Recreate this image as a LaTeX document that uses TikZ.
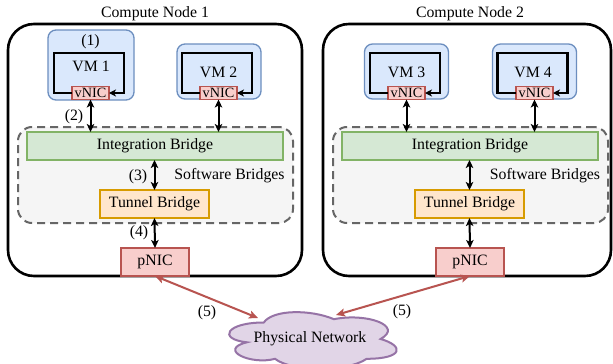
\documentclass[tikz,border=0pt]{standalone}
\usepackage{fontspec}
\setmainfont{Liberation Serif}
\usetikzlibrary{arrows.meta}

\definecolor{vmfill}{HTML}{DAE8FC}
\definecolor{vmline}{HTML}{6C8EBF}
\definecolor{nicfill}{HTML}{F8CECC}
\definecolor{nicline}{HTML}{B85450}
\definecolor{ibfill}{HTML}{D5E8D4}
\definecolor{ibline}{HTML}{82B366}
\definecolor{tbfill}{HTML}{FFE6CC}
\definecolor{tbline}{HTML}{D79B00}
\definecolor{swfill}{HTML}{F5F5F5}
\definecolor{swline}{HTML}{666666}
\definecolor{netfill}{HTML}{E1D5E7}
\definecolor{netline}{HTML}{9673A6}

\newcommand\dgmfont{\fontsize{15.8pt}{18pt}\selectfont}
\newcommand\nicfont{\fontsize{14.2pt}{16pt}\selectfont}

\begin{document}
\begin{tikzpicture}[x=1pt,y=-1pt,
  box/.style={rectangle,inner sep=0pt,outer sep=0pt},
  host/.style={box,draw=black,line width=2.6pt,rounded corners=26pt},
  vmcase/.style={box,draw=vmline,fill=vmfill,line width=1.3pt,rounded corners=8pt},
  nic/.style={box,draw=nicline,fill=nicfill,line width=1.3pt,font=\nicfont},
  swbox/.style={box,draw=swline,fill=swfill,line width=2pt,dash pattern=on 8pt off 5pt,rounded corners=14pt},
  intbr/.style={box,draw=ibline,fill=ibfill,line width=1.3pt,font=\dgmfont},
  tunbr/.style={box,draw=tbline,fill=tbfill,line width=1.3pt,font=\dgmfont},
  pnic/.style={box,draw=nicline,fill=nicfill,line width=1.3pt,font=\dgmfont},
  lbl/.style={inner sep=0pt,font=\dgmfont},
  tip/.style={Stealth[length=8pt,width=7.5pt,inset=2pt]},
  vmloop/.style={line width=2.4pt,-{Stealth[length=7pt,width=7pt,inset=2pt]}},
  link/.style={line width=2pt,{Stealth[length=8pt,width=7.5pt,inset=2pt]}-{Stealth[length=8pt,width=7.5pt,inset=2pt]}},
  wan/.style={draw=nicline,line width=2pt,{Stealth[length=9pt,width=8pt,inset=2pt]}-{Stealth[length=9pt,width=8pt,inset=2pt]}}
]
\useasboundingbox (0,0) rectangle (613,364);
\fill[white] (0,0) rectangle (613,364);

% ---------- Compute Node 1 ----------
\node[host,minimum width=294pt,minimum height=252pt] (cn1) at (155,150) {};
\node[lbl] (cn1t) at (155,14) {Compute Node 1};

\node[vmcase,minimum width=86pt,minimum height=70pt] (vmc1) at (91,65) {};
\node[box,minimum width=70pt,minimum height=40pt] (vm1) at (89,73) {};
\node[lbl] (vm1n) at (90.5,42) {(1)};
\node[lbl] (vm1t) at (91,66) {VM 1};
\node[nic,minimum width=37pt,minimum height=13pt] (vnic1) at (90.5,93) {vNIC};
\draw[vmloop] (vnic1.west) -- (vm1.south west) -- (vm1.north west) -- (vm1.north east) -- (vm1.south east) -- (vnic1.east);

\node[vmcase,minimum width=84pt,minimum height=55pt] (vmc2) at (219,71.5) {};
\node[box,minimum width=70pt,minimum height=40pt] (vm2) at (217,73) {};
\node[lbl] (vm2t) at (218.5,72) {VM 2};
\node[nic,minimum width=37pt,minimum height=13pt] (vnic2) at (218.5,93) {vNIC};
\draw[vmloop] (vnic2.west) -- (vm2.south west) -- (vm2.north west) -- (vm2.north east) -- (vm2.south east) -- (vnic2.east);

\node[swbox,minimum width=275pt,minimum height=96pt] (sb1) at (155.5,175) {};
\node[intbr,minimum width=256pt,minimum height=28pt] (ib1) at (155,146) {Integration Bridge};
\node[tunbr,minimum width=109pt,minimum height=28pt] (tb1) at (154.5,204) {Tunnel Bridge};
\node[pnic,minimum width=68pt,minimum height=28pt] (pnic1) at (155,262) {pNIC};
\node[lbl] (sb1t) at (229.5,176) {Software Bridges};

\draw[link] (vnic1.south) -- (vnic1.south |- ib1.north);
\draw[link] (vnic2.south) -- (vnic2.south |- ib1.north);
\draw[link] (tb1.north |- ib1.south) -- (tb1.north);
\draw[link] (tb1.south) -- (pnic1.north);
\node[lbl] (l2a) at (74,117) {(2)};
\node[lbl] (l3a) at (138,177) {(3)};
\node[lbl] (l4a) at (139,233) {(4)};

% ---------- Compute Node 2 ----------
\node[host,minimum width=288pt,minimum height=252pt] (cn2) at (467,150) {};
\node[lbl] (cn2t) at (470,14) {Compute Node 2};

\node[vmcase,minimum width=84pt,minimum height=55pt] (vmc3) at (406.5,71.5) {};
\node[box,minimum width=70pt,minimum height=40pt] (vm3) at (405,73) {};
\node[lbl] (vm3t) at (406.5,72) {VM 3};
\node[nic,minimum width=37pt,minimum height=13pt] (vnic3) at (406.5,93) {vNIC};
\draw[vmloop] (vnic3.west) -- (vm3.south west) -- (vm3.north west) -- (vm3.north east) -- (vm3.south east) -- (vnic3.east);

\node[vmcase,minimum width=84pt,minimum height=55pt] (vmc4) at (534.5,71.5) {};
\node[box,minimum width=70pt,minimum height=40pt] (vm4) at (532.5,73) {};
\node[lbl] (vm4t) at (533,72) {VM 4};
\node[nic,minimum width=37pt,minimum height=13pt] (vnic4) at (534.5,93) {vNIC};
\draw[vmloop] (vnic4.west) -- (vm4.south west) -- (vm4.north west) -- (vm4.north east) -- (vm4.south east) -- (vnic4.east);

\node[swbox,minimum width=275pt,minimum height=96pt] (sb2) at (470.5,175) {};
\node[intbr,minimum width=256pt,minimum height=28pt] (ib2) at (470,146) {Integration Bridge};
\node[tunbr,minimum width=109pt,minimum height=28pt] (tb2) at (469.5,204) {Tunnel Bridge};
\node[pnic,minimum width=68pt,minimum height=28pt] (pnic2) at (470,262) {pNIC};
\node[lbl] (sb2t) at (545,176) {Software Bridges};

\draw[link] (vnic3.south) -- (vnic3.south |- ib2.north);
\draw[link] (vnic4.south) -- (vnic4.south |- ib2.north);
\draw[link] (tb2.north |- ib2.south) -- (tb2.north);
\draw[link] (tb2.south) -- (pnic2.north);

% ---------- Physical network cloud ----------
\draw[draw=netline,fill=netfill,line width=2pt]
  (263.75,322.5)
  .. controls (226.35,322.5) and (217,339) .. (246.9,342.3)
  .. controls (217,349.6) and (250.7,365.4) .. (275,358.8)
  .. controls (291.8,372) and (347.9,372) .. (366.6,358.8)
  .. controls (404,358.8) and (404,345.6) .. (380.6,339)
  .. controls (404,325.8) and (366.6,312.6) .. (333.9,319.2)
  .. controls (310.5,309.3) and (273.1,309.3) .. (263.75,322.5) -- cycle;
\node[lbl] (net) at (310,339) {Physical Network};
\coordinate (netL) at (258,318);
\coordinate (netR) at (336,315);

\draw[wan] (pnic1.south) -- (netL);
\draw[wan] (pnic2.south) -- (netR);
\node[lbl] (l5a) at (207,313) {(5)};
\node[lbl] (l5b) at (402,312) {(5)};
\end{tikzpicture}
\end{document}
